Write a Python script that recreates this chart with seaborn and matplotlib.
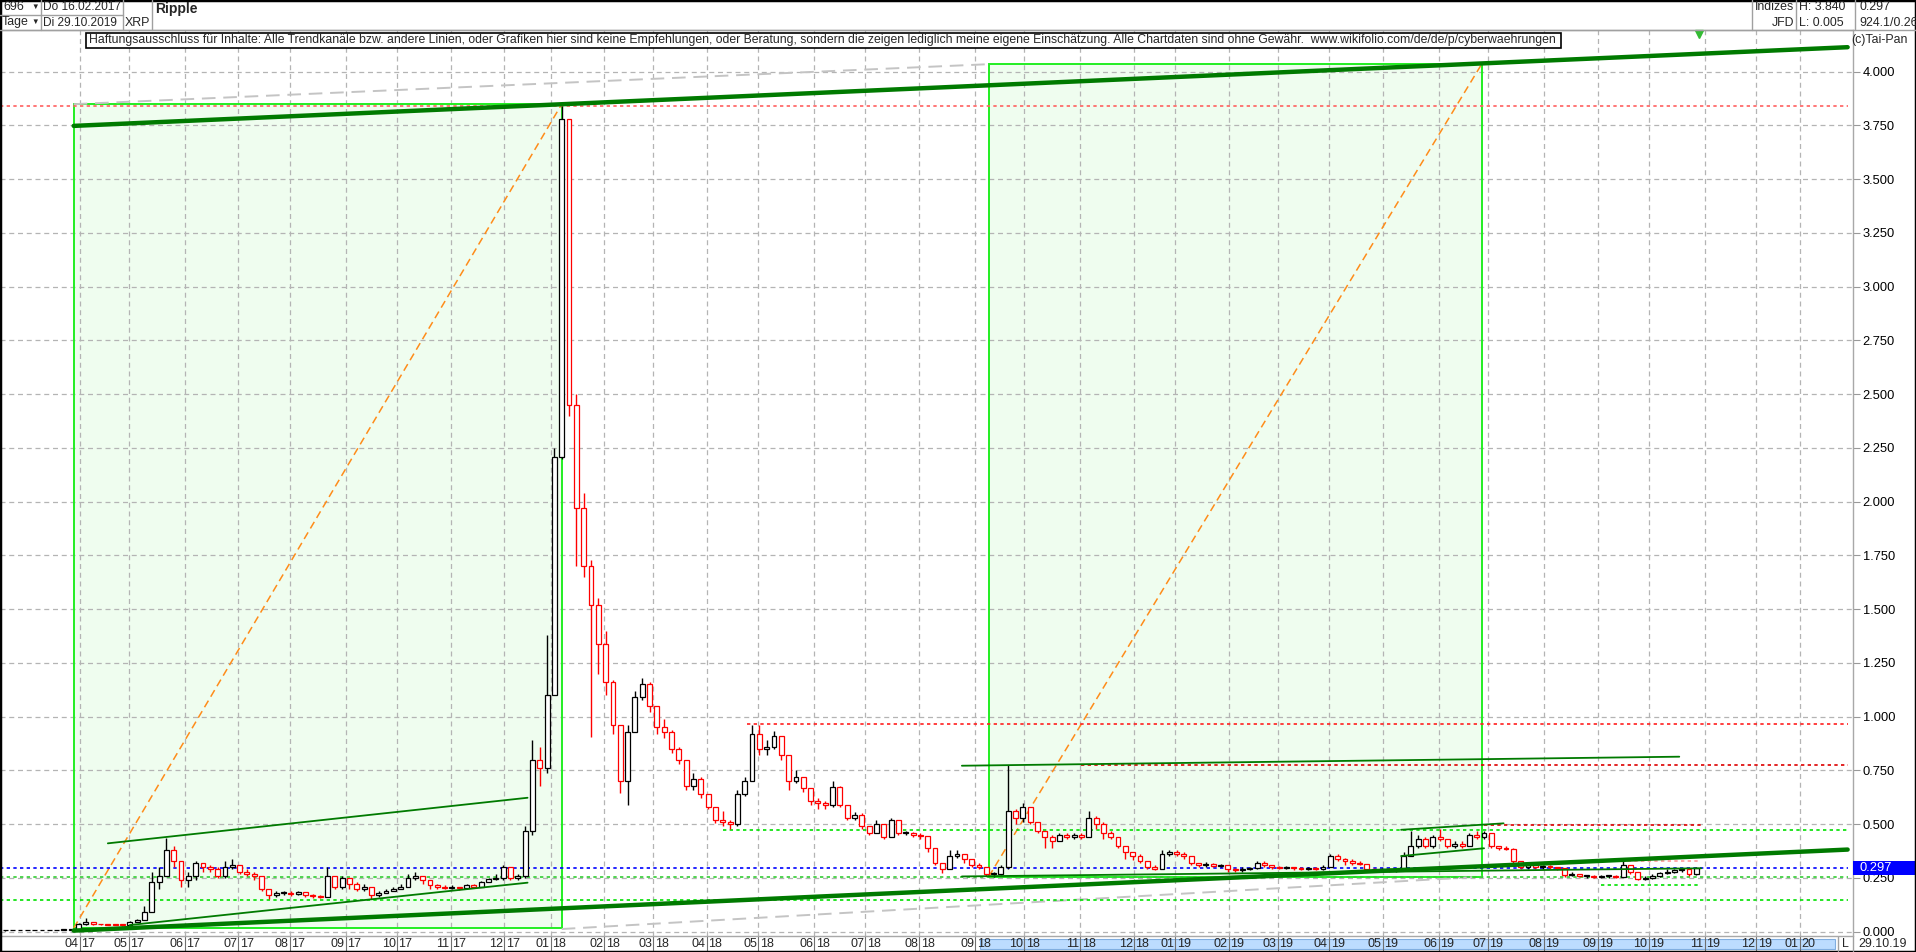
import numpy as np
import pandas as pd
import matplotlib
matplotlib.use("Agg")
import matplotlib.pyplot as plt
from matplotlib.patches import Rectangle
from matplotlib.lines import Line2D
import seaborn as sns

W, H = 1916, 952

# ---------------- data: XRP, 3 trading days per candle from 16.02.2017 ----------------
close = [
    0.006, 0.006, 0.006, 0.006, 0.007, 0.007, 0.007, 0.008, 0.008, 0.009,
    0.035, 0.045, 0.036, 0.035, 0.033, 0.032, 0.031, 0.045, 0.055, 0.090,
    0.230, 0.260, 0.380, 0.330, 0.240, 0.260, 0.320, 0.300, 0.290, 0.260,
    0.300, 0.310, 0.280, 0.270, 0.260, 0.200, 0.170, 0.180, 0.180, 0.175,
    0.185, 0.170, 0.165, 0.160, 0.260, 0.210, 0.250, 0.220, 0.200, 0.210,
    0.170, 0.180, 0.190, 0.200, 0.210, 0.250, 0.260, 0.240, 0.215, 0.210,
    0.205, 0.210, 0.205, 0.215, 0.210, 0.230, 0.245, 0.250, 0.300, 0.250,
    0.260, 0.470, 0.800, 0.760, 1.100, 2.210, 3.780, 2.450, 1.970, 1.700,
    1.520, 1.340, 1.160, 0.960, 0.700, 0.930, 1.090, 1.150, 1.050, 0.950,
    0.930, 0.850, 0.800, 0.680, 0.710, 0.640, 0.580, 0.520, 0.510, 0.500,
    0.640, 0.700, 0.920, 0.850, 0.860, 0.910, 0.820, 0.700, 0.720, 0.670,
    0.610, 0.600, 0.590, 0.675, 0.590, 0.530, 0.545, 0.490, 0.460, 0.500,
    0.440, 0.520, 0.460, 0.460, 0.450, 0.445, 0.390, 0.320, 0.290, 0.350,
    0.360, 0.340, 0.310, 0.300, 0.270, 0.270, 0.300, 0.560, 0.530, 0.580,
    0.510, 0.470, 0.440, 0.420, 0.450, 0.440, 0.450, 0.440, 0.530, 0.500,
    0.460, 0.440, 0.400, 0.370, 0.350, 0.330, 0.300, 0.290, 0.360, 0.370,
    0.360, 0.350, 0.320, 0.310, 0.315, 0.305, 0.310, 0.290, 0.285, 0.290,
    0.295, 0.320, 0.310, 0.300, 0.295, 0.300, 0.295, 0.290, 0.295, 0.290,
    0.300, 0.350, 0.340, 0.330, 0.320, 0.315, 0.290, 0.285, 0.290, 0.285,
    0.290, 0.350, 0.400, 0.430, 0.400, 0.440, 0.430, 0.400, 0.410, 0.400,
    0.450, 0.440, 0.460, 0.400, 0.390, 0.385, 0.330, 0.300, 0.310, 0.300,
    0.305, 0.300, 0.295, 0.265, 0.270, 0.260, 0.260, 0.255, 0.260, 0.260,
    0.255, 0.310, 0.280, 0.245, 0.250, 0.260, 0.275, 0.280, 0.285, 0.290,
    0.270, 0.297,
]
high = [
    0.007, 0.007, 0.007, 0.007, 0.007, 0.008, 0.008, 0.009, 0.009, 0.011,
    0.040, 0.062, 0.045, 0.038, 0.036, 0.034, 0.034, 0.048, 0.060, 0.120,
    0.280, 0.300, 0.436, 0.400, 0.330, 0.280, 0.330, 0.320, 0.310, 0.300,
    0.330, 0.340, 0.310, 0.290, 0.280, 0.260, 0.200, 0.190, 0.190, 0.190,
    0.190, 0.185, 0.175, 0.170, 0.300, 0.250, 0.260, 0.250, 0.230, 0.220,
    0.210, 0.190, 0.200, 0.210, 0.220, 0.270, 0.280, 0.260, 0.240, 0.220,
    0.215, 0.215, 0.210, 0.220, 0.220, 0.235, 0.250, 0.270, 0.310, 0.300,
    0.270, 0.490, 0.890, 0.860, 1.380, 2.250, 3.840, 3.780, 2.500, 2.040,
    1.730, 1.550, 1.400, 1.170, 0.960, 0.960, 1.120, 1.180, 1.160, 1.050,
    0.990, 0.940, 0.860, 0.800, 0.740, 0.720, 0.640, 0.580, 0.560, 0.520,
    0.660, 0.720, 0.960, 0.960, 0.890, 0.935, 0.910, 0.820, 0.750, 0.720,
    0.670, 0.620, 0.610, 0.700, 0.680, 0.590, 0.555, 0.550, 0.490, 0.520,
    0.500, 0.530, 0.520, 0.470, 0.465, 0.460, 0.440, 0.390, 0.320, 0.380,
    0.380, 0.360, 0.340, 0.320, 0.300, 0.280, 0.310, 0.775, 0.570, 0.600,
    0.580, 0.510, 0.470, 0.450, 0.460, 0.460, 0.460, 0.460, 0.560, 0.540,
    0.510, 0.470, 0.440, 0.400, 0.370, 0.360, 0.330, 0.310, 0.380, 0.380,
    0.380, 0.370, 0.350, 0.320, 0.325, 0.320, 0.315, 0.310, 0.295, 0.300,
    0.300, 0.330, 0.330, 0.310, 0.305, 0.305, 0.300, 0.300, 0.300, 0.300,
    0.310, 0.360, 0.360, 0.345, 0.340, 0.330, 0.315, 0.295, 0.295, 0.295,
    0.295, 0.370, 0.470, 0.450, 0.440, 0.450, 0.480, 0.420, 0.420, 0.420,
    0.460, 0.470, 0.470, 0.460, 0.400, 0.400, 0.390, 0.330, 0.320, 0.315,
    0.310, 0.310, 0.300, 0.295, 0.280, 0.270, 0.265, 0.265, 0.265, 0.265,
    0.265, 0.330, 0.310, 0.280, 0.260, 0.270, 0.280, 0.290, 0.290, 0.295,
    0.295, 0.300,
]
low = [
    0.005, 0.006, 0.006, 0.006, 0.006, 0.006, 0.007, 0.007, 0.007, 0.008,
    0.009, 0.033, 0.033, 0.032, 0.030, 0.029, 0.028, 0.030, 0.044, 0.055,
    0.090, 0.200, 0.260, 0.300, 0.210, 0.210, 0.240, 0.280, 0.280, 0.250,
    0.250, 0.290, 0.270, 0.260, 0.240, 0.190, 0.150, 0.160, 0.170, 0.165,
    0.170, 0.160, 0.155, 0.155, 0.160, 0.200, 0.200, 0.200, 0.190, 0.190,
    0.150, 0.160, 0.180, 0.190, 0.200, 0.210, 0.240, 0.220, 0.200, 0.200,
    0.200, 0.200, 0.195, 0.200, 0.205, 0.210, 0.230, 0.240, 0.240, 0.240,
    0.240, 0.250, 0.450, 0.680, 0.740, 1.100, 2.200, 2.400, 1.700, 1.650,
    0.905, 1.200, 1.100, 0.920, 0.645, 0.590, 0.930, 1.080, 1.020, 0.920,
    0.900, 0.830, 0.780, 0.660, 0.660, 0.620, 0.570, 0.505, 0.490, 0.480,
    0.490, 0.630, 0.700, 0.820, 0.820, 0.850, 0.800, 0.660, 0.690, 0.650,
    0.590, 0.570, 0.570, 0.580, 0.580, 0.520, 0.520, 0.480, 0.450, 0.460,
    0.430, 0.440, 0.450, 0.450, 0.440, 0.430, 0.370, 0.310, 0.275, 0.290,
    0.345, 0.320, 0.300, 0.290, 0.260, 0.256, 0.265, 0.290, 0.500, 0.510,
    0.500, 0.460, 0.390, 0.390, 0.420, 0.430, 0.430, 0.430, 0.440, 0.480,
    0.430, 0.430, 0.390, 0.340, 0.335, 0.320, 0.290, 0.285, 0.290, 0.350,
    0.350, 0.340, 0.310, 0.300, 0.300, 0.300, 0.300, 0.280, 0.280, 0.280,
    0.285, 0.290, 0.300, 0.290, 0.290, 0.290, 0.285, 0.285, 0.285, 0.285,
    0.285, 0.300, 0.330, 0.310, 0.310, 0.310, 0.280, 0.280, 0.280, 0.280,
    0.280, 0.290, 0.350, 0.390, 0.390, 0.390, 0.420, 0.390, 0.390, 0.390,
    0.400, 0.430, 0.430, 0.390, 0.380, 0.380, 0.310, 0.290, 0.290, 0.290,
    0.290, 0.290, 0.285, 0.255, 0.260, 0.255, 0.250, 0.250, 0.250, 0.250,
    0.250, 0.255, 0.270, 0.240, 0.240, 0.245, 0.255, 0.270, 0.275, 0.280,
    0.260, 0.265,
]
bars_per_candle = 3

# trading calendar: weekdays without the year-end holidays
holidays = ["2017-12-25", "2017-12-26", "2018-01-01", "2018-12-24", "2018-12-25",
            "2018-12-26", "2018-12-31", "2019-01-01", "2019-12-24", "2019-12-25",
            "2019-12-26", "2019-12-31", "2020-01-01"]
month_starts = pd.date_range("2017-04-01", "2020-01-01", freq="MS")

# drawn objects (date, price)
boxes = [(("2017-03-29", 0.017), ("2018-01-08", 3.849)),
         (("2018-09-10", 0.256), ("2019-06-26", 4.035))]
channel_dates = ["2017-03-29", "2020-01-29"]
channel_top = [3.748, 4.114]
channel_bottom = [0.005, 0.382]
thin_lines = [(("2017-04-18", 0.411), ("2017-12-14", 0.623)),
              (("2017-05-01", 0.031), ("2017-12-14", 0.228)),
              (("2018-08-24", 0.772), ("2019-10-17", 0.814)),
              (("2018-08-24", 0.257), ("2019-10-30", 0.295)),
              (("2019-05-10", 0.474), ("2019-07-09", 0.504)),
              (("2019-05-10", 0.352), ("2019-06-27", 0.388))]
gray_lines = [(("2017-03-29", 3.849), ("2018-09-10", 4.035)),
              (("2018-01-08", 0.0125), ("2019-06-26", 0.256))]
full_levels = [(3.840, "#ff6060"), (0.297, "#0000ff"), (0.253, "#33cc33"), (0.146, "#00e000")]
open_levels = [("2018-04-24", 0.965, "#ff2020"), ("2018-11-01", 0.775, "#dd0000"),
               ("2018-04-10", 0.473, "#00e000")]
short_levels = [("2019-06-27", "2019-10-31", 0.496, "#dd0000"),
                ("2019-09-03", "2019-10-30", 0.329, "#ff9a9a"),
                ("2019-09-03", "2019-10-30", 0.217, "#00e000")]
last_price = 0.297
last_date = "2019-10-29"

disclaimer = ("Haftungsausschluss für Inhalte: Alle Trendkanäle bzw. andere Linien, oder Grafiken "
              "hier sind keine Empfehlungen, oder Beratung, sondern die zeigen lediglich meine eigene "
              "Einschätzung. Alle Chartdaten sind ohne Gewähr.  www.wikifolio.com/de/de/p/cyberwaehrungen")

# ---------------- setup ----------------
sns.set_theme(style="white")
plt.rcParams["font.family"] = ["Liberation Sans", "DejaVu Sans"]

bars = pd.bdate_range("2017-02-16", "2020-03-31")
bars = bars[~bars.isin(pd.to_datetime(holidays))]


def bar_of(d):
    return int(bars.searchsorted(pd.Timestamp(d)))


def fx(px):
    return px / W


def fy(py):
    return 1 - py / H


fig = plt.figure(figsize=(W / 100, H / 100), dpi=100)
ax = fig.add_axes([0, (H - 936) / H, 1853 / W, (936 - 30) / H])
ax.set_xlim(-1.2, 758.2)
ax.set_ylim(-0.020, 4.194)
grid_c = "#b4b4b4"

# grid
yticks = np.arange(0, 4.001, 0.25)
month_idx = [bar_of(d) - 0.5 for d in month_starts]
for v in yticks:
    ax.axhline(v, color=grid_c, lw=0.9, ls=(0, (4, 3)), zorder=1)
for t in month_idx:
    ax.axvline(t, color=grid_c, lw=0.9, ls=(0, (4, 3)), zorder=1)

# boxes with diagonals
for (d0, v0), (d1, v1) in boxes:
    x0, x1 = bar_of(d0), bar_of(d1)
    ax.add_patch(Rectangle((x0, v0), x1 - x0, v1 - v0, fc="#effdef", ec="none", zorder=0.3))
    ax.add_patch(Rectangle((x0, v0), x1 - x0, v1 - v0, fill=False, ec="#22ee22", lw=1.4, zorder=2))
    ax.plot([x0, x1], [v0, v1], color="#ff8c1a", lw=1.1, ls=(0, (5, 3)), zorder=2.2)

for (d0, v0), (d1, v1) in gray_lines:
    ax.plot([bar_of(d0), bar_of(d1)], [v0, v1], color="#c4c4c4", lw=1.4, ls=(0, (7, 4)), zorder=2)

# horizontal marker lines
x_end = ax.get_xlim()[1] - 2
for v, c in full_levels:
    ax.hlines(v, ax.get_xlim()[0], x_end, color=c, lw=1.2, ls=(0, (2, 2)), zorder=2.5)
for d, v, c in open_levels:
    ax.hlines(v, bar_of(d), x_end, color=c, lw=1.2, ls=(0, (2, 2)), zorder=2.5)
for d0, d1, v, c in short_levels:
    ax.hlines(v, bar_of(d0), bar_of(d1), color=c, lw=1.2, ls=(0, (2, 2)), zorder=2.5)

# candles
c = np.array(close)
o = np.r_[c[0], c[:-1]]
hi = np.maximum(np.array(high), np.maximum(o, c))
lo = np.minimum(np.array(low), np.minimum(o, c))
x = np.arange(len(c)) * bars_per_candle + 1
colors = np.where(c >= o, "black", "red")
top = np.maximum(o, c)
bot = np.minimum(o, c)
ax.vlines(x, lo, hi, colors=colors, lw=1.0, zorder=3)
ax.bar(x, np.maximum(top - bot, 0.003), bottom=bot, width=2.0, color="white",
       edgecolor=colors, linewidth=0.9, zorder=3.5)

# trend channel and thin trend lines
chan_x = [bar_of(d) for d in channel_dates]
sns.lineplot(x=chan_x, y=channel_top, ax=ax, color="#007a00", lw=3.2, zorder=4,
             estimator=None, sort=False, legend=False)
sns.lineplot(x=chan_x, y=channel_bottom, ax=ax, color="#007a00", lw=3.2, zorder=4,
             estimator=None, sort=False, legend=False)
for (d0, v0), (d1, v1) in thin_lines:
    ax.plot([bar_of(d0), bar_of(d1)], [v0, v1], color="#007a00", lw=1.3, zorder=4)

ax.plot(bar_of(last_date), 4.175, marker="v", ms=6, color="#33bb33", clip_on=False, zorder=6)

# axes styling
ax.spines["left"].set_visible(False)
for s in ["right", "bottom", "top"]:
    ax.spines[s].set_color("#a8a8a8")
    ax.spines[s].set_linewidth(1.0)
ax.yaxis.tick_right()
ax.set_yticks(yticks)
ax.set_yticklabels([f"{v:.3f}" for v in yticks])
ax.tick_params(axis="y", right=True, length=5, width=0.8, color="#999999",
               labelsize=9.3, pad=2, labelcolor="black")
ax.set_xticks([])

# month labels split by tick line
xt = ax.get_xaxis_transform()
for d, t in zip(month_starts, month_idx):
    ax.plot([t, t], [-0.001, -0.0165], transform=xt, clip_on=False, color="#707070", lw=0.8, zorder=6)
    ax.text(t - 0.5, -0.0092, d.strftime("%m"), transform=xt, ha="right", va="center", fontsize=9, zorder=6)
    ax.text(t + 0.6, -0.0092, d.strftime("%y"), transform=xt, ha="left", va="center", fontsize=9, zorder=6)

# last price box on the price axis
yt = ax.get_yaxis_transform()
ax.add_patch(Rectangle((1.0, last_price - 0.034), 62 / 1853, 0.068, transform=yt,
                       clip_on=False, fc="#0000ff", ec="none", zorder=7))
ax.text(1.0035, last_price, f"{last_price:.3f}", transform=yt, color="white", fontsize=9.3,
        va="center", ha="left", zorder=8)


# ---------------- header / frame ----------------
def fline(x0, y0, x1, y1, c="#a0a0a0", lw=1.0):
    fig.add_artist(Line2D([fx(x0), fx(x1)], [fy(y0), fy(y1)], transform=fig.transFigure, color=c, lw=lw))


fline(0, 30, W, 30)
fline(0, 15, 123, 15)
for xs in [41, 123, 152, 1752, 1796, 1855]:
    fline(xs, 0, xs, 30)
hs = 8.9
fig.text(fx(3), fy(7.5), "696", va="center", fontsize=hs)
fig.text(fx(31), fy(7.5), "▼", va="center", fontsize=5.5)
fig.text(fx(2), fy(22.5), "Tage", va="center", fontsize=hs)
fig.text(fx(31), fy(22.5), "▼", va="center", fontsize=5.5)
fig.text(fx(43), fy(7.5), "Do 16.02.2017", va="center", fontsize=8.6)
fig.text(fx(43), fy(22.5), "Di 29.10.2019", va="center", fontsize=8.6)
fig.text(fx(125), fy(22.5), "XRP", va="center", fontsize=hs)
fig.text(fx(155), fy(9), "Ripple", va="center", fontsize=10, fontweight="bold")
fig.text(fx(1794), fy(7.5), "Indizes", va="center", ha="right", fontsize=hs)
fig.text(fx(1794), fy(22.5), "JFD", va="center", ha="right", fontsize=hs)
fig.text(fx(1799), fy(7.5), "H: 3.840", va="center", fontsize=hs)
fig.text(fx(1799), fy(22.5), "L: 0.005", va="center", fontsize=hs)
fig.text(fx(1859), fy(7.5), "0.297", va="center", fontsize=hs)
fig.text(fx(1859), fy(22.5), "924.1/0.26", va="center", fontsize=hs)
fig.text(fx(1851), fy(40), "(c)Tai-Pan", va="center", fontsize=hs)

fig.add_artist(Rectangle((fx(86), fy(47.5)), fx(1561 - 86), (47.5 - 33) / H, transform=fig.transFigure,
                         fc="white", ec="black", lw=1.2, zorder=8))
fig.text(fx(89), fy(40.3), disclaimer, va="center", fontsize=8.8, zorder=9)

# scroll band and date box at the bottom
fig.add_artist(Rectangle((fx(980), fy(949)), fx(1835 - 980), 10 / H, transform=fig.transFigure,
                         fc="#bcdcff", ec="#80aee0", lw=0.8, zorder=-1))
fline(1838, 937, 1838, 951)
fline(1853, 937, 1853, 951)
fig.text(fx(1842), fy(944), "L", va="center", fontsize=hs)
fig.text(fx(1858), fy(944), "29.10.19", va="center", fontsize=hs)

fig.add_artist(Rectangle((0, 0), 1, 1, transform=fig.transFigure, fill=False, ec="black", lw=2.5))

fig.savefig("out.png", dpi=100)
